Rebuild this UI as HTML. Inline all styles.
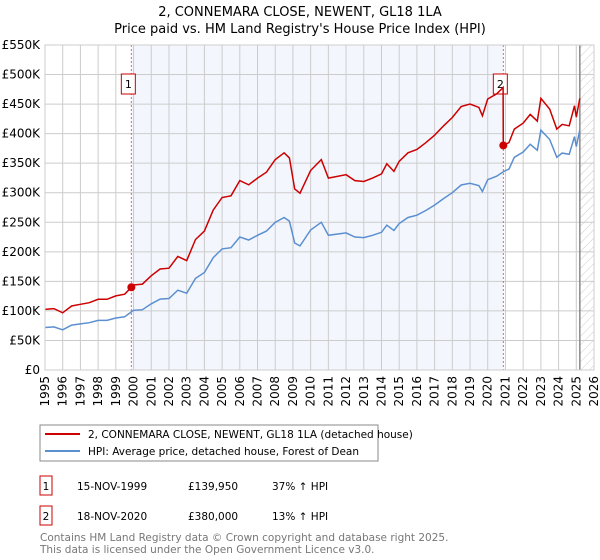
<!DOCTYPE html>
<html><head><meta charset="utf-8"><style>
body{margin:0;background:#fff;width:600px;height:560px;overflow:hidden;font-family:"DejaVu Sans","Liberation Sans",sans-serif}
svg{position:absolute;left:0;top:0}
</style></head><body>
<svg id="chart" width="600" height="560" xmlns="http://www.w3.org/2000/svg">
<defs><pattern id="hatch" width="6" height="6" patternUnits="userSpaceOnUse" patternTransform="rotate(45)"><line x1="0" y1="0" x2="0" y2="6" stroke="#ccc" stroke-width="1"/></pattern></defs>
<text x="300" y="16" text-anchor="middle" font-size="13" fill="#000">2, CONNEMARA CLOSE, NEWENT, GL18 1LA</text>
<text x="300" y="33" text-anchor="middle" font-size="13" fill="#000">Price paid vs. HM Land Registry's House Price Index (HPI)</text>
<g id="plot"></g>
<rect x="40" y="425" width="338" height="36" fill="#fff" stroke="#888"/>
<line x1="45" y1="434" x2="80" y2="434" stroke="#cc0000" stroke-width="2"/>
<text x="88" y="438" font-size="10.5">2, CONNEMARA CLOSE, NEWENT, GL18 1LA (detached house)</text>
<line x1="45" y1="451" x2="80" y2="451" stroke="#5b8fd0" stroke-width="2"/>
<text x="88" y="455" font-size="10.5">HPI: Average price, detached house, Forest of Dean</text>
<g font-size="10.5">
<rect x="40" y="476" width="12" height="19" fill="#fff" stroke="#cc0000"/>
<text x="46" y="490" text-anchor="middle">1</text>
<text x="77" y="490">15-NOV-1999</text>
<text x="188" y="490">£139,950</text>
<text x="272" y="490">37% ↑ HPI</text>
<rect x="40" y="506" width="12" height="19" fill="#fff" stroke="#cc0000"/>
<text x="46" y="520" text-anchor="middle">2</text>
<text x="77" y="520">18-NOV-2020</text>
<text x="188" y="520">£380,000</text>
<text x="272" y="520">13% ↑ HPI</text>
</g>
<text x="40" y="541" font-size="10.5" fill="#777">Contains HM Land Registry data © Crown copyright and database right 2025.</text>
<text x="40" y="553" font-size="10.5" fill="#777">This data is licensed under the Open Government Licence v3.0.</text>
</svg>
<script>
const hpiYears=[1995,1995.5,1996,1996.5,1997,1997.5,1998,1998.5,1999,1999.5,2000,2000.5,2001,2001.5,2002,2002.5,2003,2003.5,2004,2004.5,2005,2005.5,2006,2006.5,2007,2007.5,2008,2008.5,2008.8,2009.1,2009.4,2010,2010.6,2011,2012,2012.5,2013,2013.5,2014,2014.3,2014.7,2015,2015.5,2016,2016.5,2017,2017.5,2018,2018.5,2019,2019.5,2019.7,2020,2020.5,2020.9,2021.2,2021.5,2022,2022.4,2022.8,2023,2023.5,2023.9,2024.2,2024.6,2024.9,2025,2025.2];
const hpiValues=[72,73,68,76,78,80,84,84,88,90,101,102,112,120,121,135,130,155,165,190,205,207,225,220,228,235,250,258,252,215,210,237,250,228,232,225,224,228,233,245,236,248,258,262,270,279,290,300,313,316,312,302,322,328,336,340,360,369,382,372,406,390,360,367,365,395,378,406];
const saleYears=[1999.875,2020.88];
const salePrices=[139.95,380];
const yTicks=[0,50,100,150,200,250,300,350,400,450,500,550];
const yTickLabels=["£0","£50K","£100K","£150K","£200K","£250K","£300K","£350K","£400K","£450K","£500K","£550K"];
const xTicks=[1995,1996,1997,1998,1999,2000,2001,2002,2003,2004,2005,2006,2007,2008,2009,2010,2011,2012,2013,2014,2015,2016,2017,2018,2019,2020,2021,2022,2023,2024,2025,2026];
const dataEnd=2025.2;
const X0=45,X1=594,Y0=370,Y1=45;
const xs=y=>X0+(y-1995)/(2026-1995)*(X1-X0);
const ys=v=>Y0-v/550*(Y0-Y1);
const NS="http://www.w3.org/2000/svg";
const g=document.getElementById('plot');
function mk(t,a){const e=document.createElementNS(NS,t);for(const k in a)e.setAttribute(k,a[k]);g.appendChild(e);return e;}
function hpiAt(y){for(let i=1;i<hpiYears.length;i++){if(y<=hpiYears[i]){const t=(y-hpiYears[i-1])/(hpiYears[i]-hpiYears[i-1]);return hpiValues[i-1]+t*(hpiValues[i]-hpiValues[i-1]);}}return hpiValues[hpiValues.length-1];}
let e;
e=mk('rect',{x:xs(saleYears[0]),y:Y1,width:xs(saleYears[1])-xs(saleYears[0]),height:Y0-Y1,fill:'#eef3fc',opacity:0.7});


e=mk('rect',{x:xs(dataEnd),y:Y1,width:X1-xs(dataEnd),height:Y0-Y1,fill:'url(#hatch)'});


xTicks.forEach(t=>{const x=xs(t);
 e=mk('line',{x1:x,y1:Y1,x2:x,y2:Y0,stroke:'#ccc','stroke-width':1});
 
 
 e=mk('text',{x:0,y:0,'font-size':12,'text-anchor':'end',transform:`translate(${x+4},376) rotate(-90)`});
 e.textContent=t;
 
 });
yTicks.forEach((t,i)=>{const y=ys(t);
 e=mk('line',{x1:X0,y1:y,x2:X1,y2:y,stroke:'#ccc','stroke-width':1});
 
 
 e=mk('text',{x:40,y:y+4,'font-size':12,'text-anchor':'end'});
 e.textContent=yTickLabels[i];
 
 });
e=mk('line',{x1:xs(dataEnd),y1:Y1,x2:xs(dataEnd),y2:Y0,stroke:'#888','stroke-width':1.5});


saleYears.forEach((s,i)=>{const x=xs(s);
 e=mk('line',{x1:x,y1:Y1,x2:x,y2:Y0,stroke:'#e06666','stroke-width':1,'stroke-dasharray':'2,2'});
 
 
 e=mk('rect',{x:x-10,y:74,width:14,height:20,fill:'#fff',stroke:'#cc0000'});
 
 
 e=mk('text',{x:x-3,y:88,'font-size':11,'text-anchor':'middle'});
 e.textContent=String(i+1);
 
 });
let d=hpiYears.map((y,i)=>(i?'L':'M')+xs(y).toFixed(1)+','+ys(hpiValues[i]).toFixed(1)).join('');
e=mk('path',{d:d,fill:'none',stroke:'#5b8fd0','stroke-width':1.5});


const r0=salePrices[0]/hpiAt(saleYears[0]), r1=salePrices[1]/hpiAt(saleYears[1]);
let pts=[];
hpiYears.forEach((y,i)=>{if(y<saleYears[1])pts.push([y,hpiValues[i]*r0]);});
pts.push([saleYears[1]-0.01,hpiAt(saleYears[1])*r0]);
pts.push([saleYears[1],salePrices[1]]);
hpiYears.forEach((y,i)=>{if(y>saleYears[1])pts.push([y,hpiValues[i]*r1]);});
d=pts.map((p,i)=>(i?'L':'M')+xs(p[0]).toFixed(1)+','+ys(p[1]).toFixed(1)).join('');
e=mk('path',{d:d,fill:'none',stroke:'#cc0000','stroke-width':1.5});


saleYears.forEach((s,i)=>{
 e=mk('circle',{cx:xs(s),cy:ys(salePrices[i]),r:4,fill:'#cc0000'});
 
 });
e=mk('rect',{x:X0,y:Y1,width:X1-X0,height:Y0-Y1,fill:'none',stroke:'#ccc'});


</script>
</body></html>
